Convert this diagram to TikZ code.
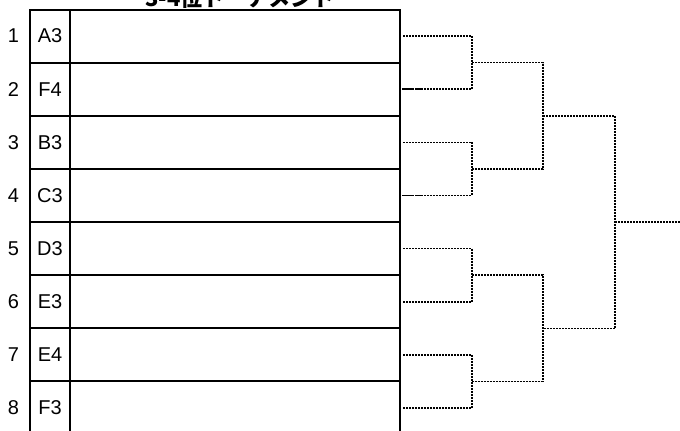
\documentclass[tikz,border=0pt]{standalone}
\usepackage{fontspec}
\setmainfont{Liberation Sans}
\newfontfamily\jpfont{Noto Sans CJK JP}
\usetikzlibrary{calc}
\tikzset{
  cellbase/.style={draw, line width=1.5pt, minimum height=39.86pt, inner sep=0pt, font=\fontsize{15}{17}\selectfont},
  codecell/.style={cellbase, minimum width=30pt},
  namecell/.style={cellbase, minimum width=247.5pt},
  numlbl/.style={inner sep=0pt, font=\fontsize{15}{17}\selectfont},
  titlelbl/.style={inner sep=0pt, font=\jpfont\bfseries\fontsize{16.5}{18}\selectfont},
  dots/.style={line width=1.15pt, dash pattern=on 1.5pt off 0.75pt},
  lead/.style={line width=1.3pt, dash pattern=on 9pt off 0.8pt on 6pt off 30pt}
}
\begin{document}
\begin{tikzpicture}[x=0.75pt,y=-0.75pt]
\useasboundingbox (0,0) rectangle (680,430);
\node[titlelbl, anchor=base] (title) at (240,6) {3-4位トーナメント};
\foreach \i/\c in {1/A3,2/F4,3/B3,4/C3,5/D3,6/E3,7/E4,8/F3} {
  \pgfmathsetmacro{\yy}{9.5+53.14*(\i-0.5)}
  \node[numlbl] (num\i) at (13.5,\yy) {\i};
  \node[codecell] (code\i) at (50,\yy) {\c};
  \node[namecell] (name\i) at (235,\yy) {};
}
\coordinate (r1) at (472,0);
\coordinate (r2) at (543,0);
\coordinate (r3) at (615,0);
\coordinate (r4) at (680,0);
% round 1
\foreach \a/\b/\sb/\k in {1/2/17/1,3/4/17/2,5/6/1.5/3,7/8/1.5/4} {
  \draw[dots] ([xshift=1.5pt]name\a.east) -- (name\a.east -| r1) -- (name\b.east -| r1) -- ([xshift=\sb pt]name\b.east);
  \coordinate (m\k) at ($(name\a.east -| r1)!0.5!(name\b.east -| r1)$);
}
\draw[lead] ([xshift=0.75pt]name2.east) -- ([xshift=17pt]name2.east);
\draw[lead] ([xshift=0.75pt]name4.east) -- ([xshift=17pt]name4.east);
% round 2
\draw[dots] (m1) -- (m1 -| r2) -- (m2 -| r2) -- (m2);
\draw[dots] (m3) -- (m3 -| r2) -- (m4 -| r2) -- (m4);
\coordinate (q1) at ($(m1 -| r2)!0.5!(m2 -| r2)$);
\coordinate (q2) at ($(m3 -| r2)!0.5!(m4 -| r2)$);
% round 3
\draw[dots] (q1) -- (q1 -| r3) -- (q2 -| r3) -- (q2);
\coordinate (fin) at ($(q1 -| r3)!0.5!(q2 -| r3)$);
\coordinate (finend) at (fin -| r4);
\draw[dots] (fin) -- (finend);
\end{tikzpicture}
\end{document}
